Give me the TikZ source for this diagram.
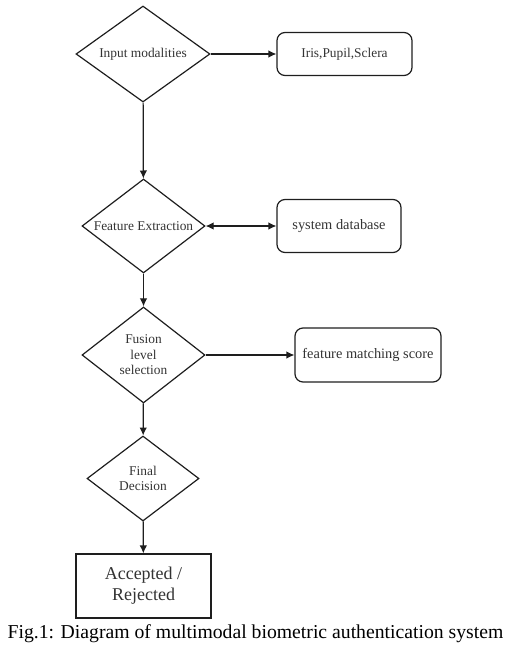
\documentclass[tikz,border=0pt]{standalone}
\usepackage{fontspec}
\setmainfont{Liberation Serif}
\usetikzlibrary{shapes.geometric}
\usetikzlibrary{positioning}
\usetikzlibrary{calc}
\usetikzlibrary{arrows.meta}
\definecolor{ln}{HTML}{1E1E1E}
\definecolor{txt}{HTML}{333333}
\tikzset{every picture/.style={line width=1.2pt},
dec/.style={diamond,draw=ln,aspect=1.4,inner sep=0pt,align=center,text=txt,font=\fontsize{13.4}{15.5}\selectfont},
rbox/.style={draw=ln,rounded corners=8pt,inner sep=0pt,align=center,text=txt,font=\fontsize{13.4}{15.5}\selectfont},
big/.style={font=\fontsize{14.4}{16}\selectfont},
flow/.style={-{Latex[length=8pt,width=7.5pt]},draw=ln}}

\begin{document}
\begin{tikzpicture}[x=1pt,y=-1pt]
\useasboundingbox (0,0) rectangle (522,655);
\node (input) at (143,54) [dec,minimum width=134pt,minimum height=96pt] {Input modalities};
\node (iris) at (344.5,54) [rbox,minimum width=135pt,minimum height=43pt] {Iris,Pupil,Sclera};
\node (feat) at (143.5,226) [dec,minimum width=123pt,minimum height=94pt] {Feature Extraction};
\node (db) at (339,226) [rbox,big,minimum width=124pt,minimum height=53pt] {system database};
\node (fusion) at (143.5,355) [dec,minimum width=123pt,minimum height=96pt] {Fusion\\level\\selection};
\node (score) at (368,355) [rbox,big,minimum width=146pt,minimum height=54pt] {feature matching score};
\node (final) at (143,478.5) [dec,minimum width=112pt,minimum height=85pt] {Final\\Decision};
\node (acc) at (143.5,586) [draw=ln,inner sep=0pt,align=center,text=txt,minimum width=135pt,minimum height=64pt,font=\fontsize{18}{21}\selectfont] {Accepted /\\Rejected};
\node (cap) at (255.5,634) [font=\fontsize{19.7}{22}\selectfont] {Fig.1: Diagram of multimodal biometric authentication system};
\draw[flow] (input) -- (iris);
\draw[flow] (input) -- (feat);
\draw[flow,{Latex[length=8pt,width=7.5pt]}-{Latex[length=8pt,width=7.5pt]}] (feat) -- (db);
\draw[flow] (feat) -- (fusion);
\draw[flow] (fusion) -- (score);
\draw[flow] (fusion) -- (final);
\draw[flow] (final) -- (acc);
\end{tikzpicture}
\end{document}
